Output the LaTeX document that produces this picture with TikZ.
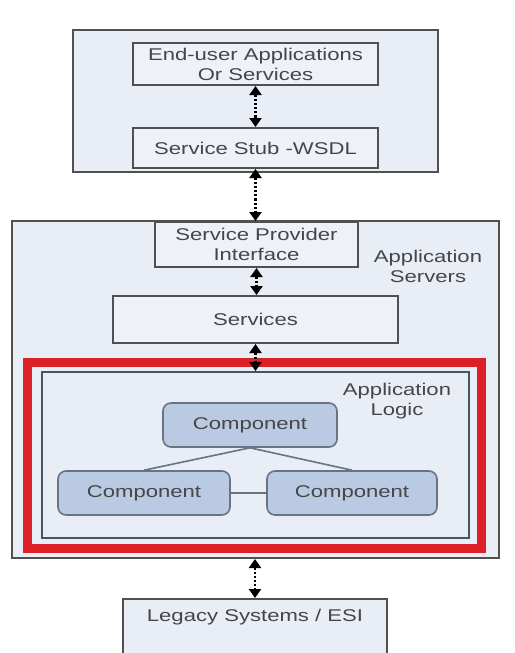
\documentclass[tikz,border=0pt]{standalone}
\usepackage{fontspec}
\setmainfont{Liberation Sans}[FakeStretch=1.3]
\usetikzlibrary{arrows.meta}
\definecolor{panelfill}{RGB}{232,237,246}
\definecolor{boxfill}{RGB}{238,241,248}
\definecolor{compfill}{RGB}{185,202,226}
\definecolor{compedge}{RGB}{105,115,130}
\definecolor{boxedge}{RGB}{80,80,80}
\definecolor{logicedge}{RGB}{70,85,95}
\definecolor{textgray}{RGB}{70,70,70}
\definecolor{hilite}{RGB}{220,32,40}
\begin{document}
\begin{tikzpicture}[x=0.5pt,y=-0.5pt,
  font=\fontsize{8.5}{10}\selectfont,text=textgray,
  panel/.style={draw=boxedge,line width=1pt,fill=panelfill,inner sep=0pt},
  box/.style={draw=boxedge,line width=1pt,fill=boxfill,inner sep=0pt,align=center},
  comp/.style={draw=compedge,line width=0.8pt,fill=compfill,rounded corners=4pt,inner sep=0pt,minimum height=22pt},
  wire/.style={draw=compedge,line width=0.8pt},
  link/.style={densely dotted,line width=1.1pt,{Triangle[length=4.5pt,width=6pt]}-{Triangle[length=4.5pt,width=6pt]}}]
  \useasboundingbox (0,0) rectangle (514,653);
  \clip (0,0) rectangle (514,653);
  % client side
  \node [panel,minimum width=182.5pt,minimum height=71pt] (client) at (255.5,101) {};
  \node [box,minimum width=122.5pt,minimum height=21pt] (enduser) at (255.5,64) {End-user Applications\\Or Services};
  \node [box,minimum width=122.5pt,minimum height=20pt] (stub) at (255.5,148) {Service Stub -WSDL};
  % application servers
  \node [panel,minimum width=243.5pt,minimum height=168.5pt] (appsrv) at (255.5,389.5) {};
  \node [align=center] (appsrvlbl) at (428,266) {Application\\Servers};
  \node [box,minimum width=101.5pt,minimum height=22.5pt] (spi) at (256.5,244.5) {Service Provider\\Interface};
  \node [box,minimum width=142.5pt,minimum height=23.5pt] (services) at (255.5,319.5) {Services};
  \node [draw=hilite,line width=4.5pt,inner sep=0pt,minimum width=227pt,minimum height=93pt] (focus) at (254,455) {};
  \node [draw=logicedge,line width=1pt,fill=panelfill,inner sep=0pt,minimum width=213.5pt,minimum height=83pt] (logic) at (255.5,455) {};
  \node [align=center] (logiclbl) at (397,401) {Application\\Logic};
  \node [comp,minimum width=87pt] (comptop) at (250,425) {Component};
  \node [comp,minimum width=86pt] (compleft) at (144,493) {Component};
  \node [comp,minimum width=85pt] (compright) at (352,493) {Component};
  \draw [wire] (comptop.south) -- (compleft.north);
  \draw [wire] (comptop.south) -- (compright.north);
  \draw [wire] (compleft) -- (compright);
  % backend
  \node [panel,minimum width=132pt,minimum height=35.5pt,label={[anchor=center,yshift=-9.5pt]north:Legacy Systems / ESI}] (legacy) at (255,634.5) {};
  \draw [link] (enduser) -- (stub);
  \draw [link] (stub.south) -- (stub.south |- spi.north);
  \draw [link] (spi.south) -- (spi.south |- services.north);
  \draw [link] (services.south) -- (services.south |- logic.north);
  \draw [link] (legacy.north |- appsrv.south) -- (legacy.north);
\end{tikzpicture}
\end{document}
